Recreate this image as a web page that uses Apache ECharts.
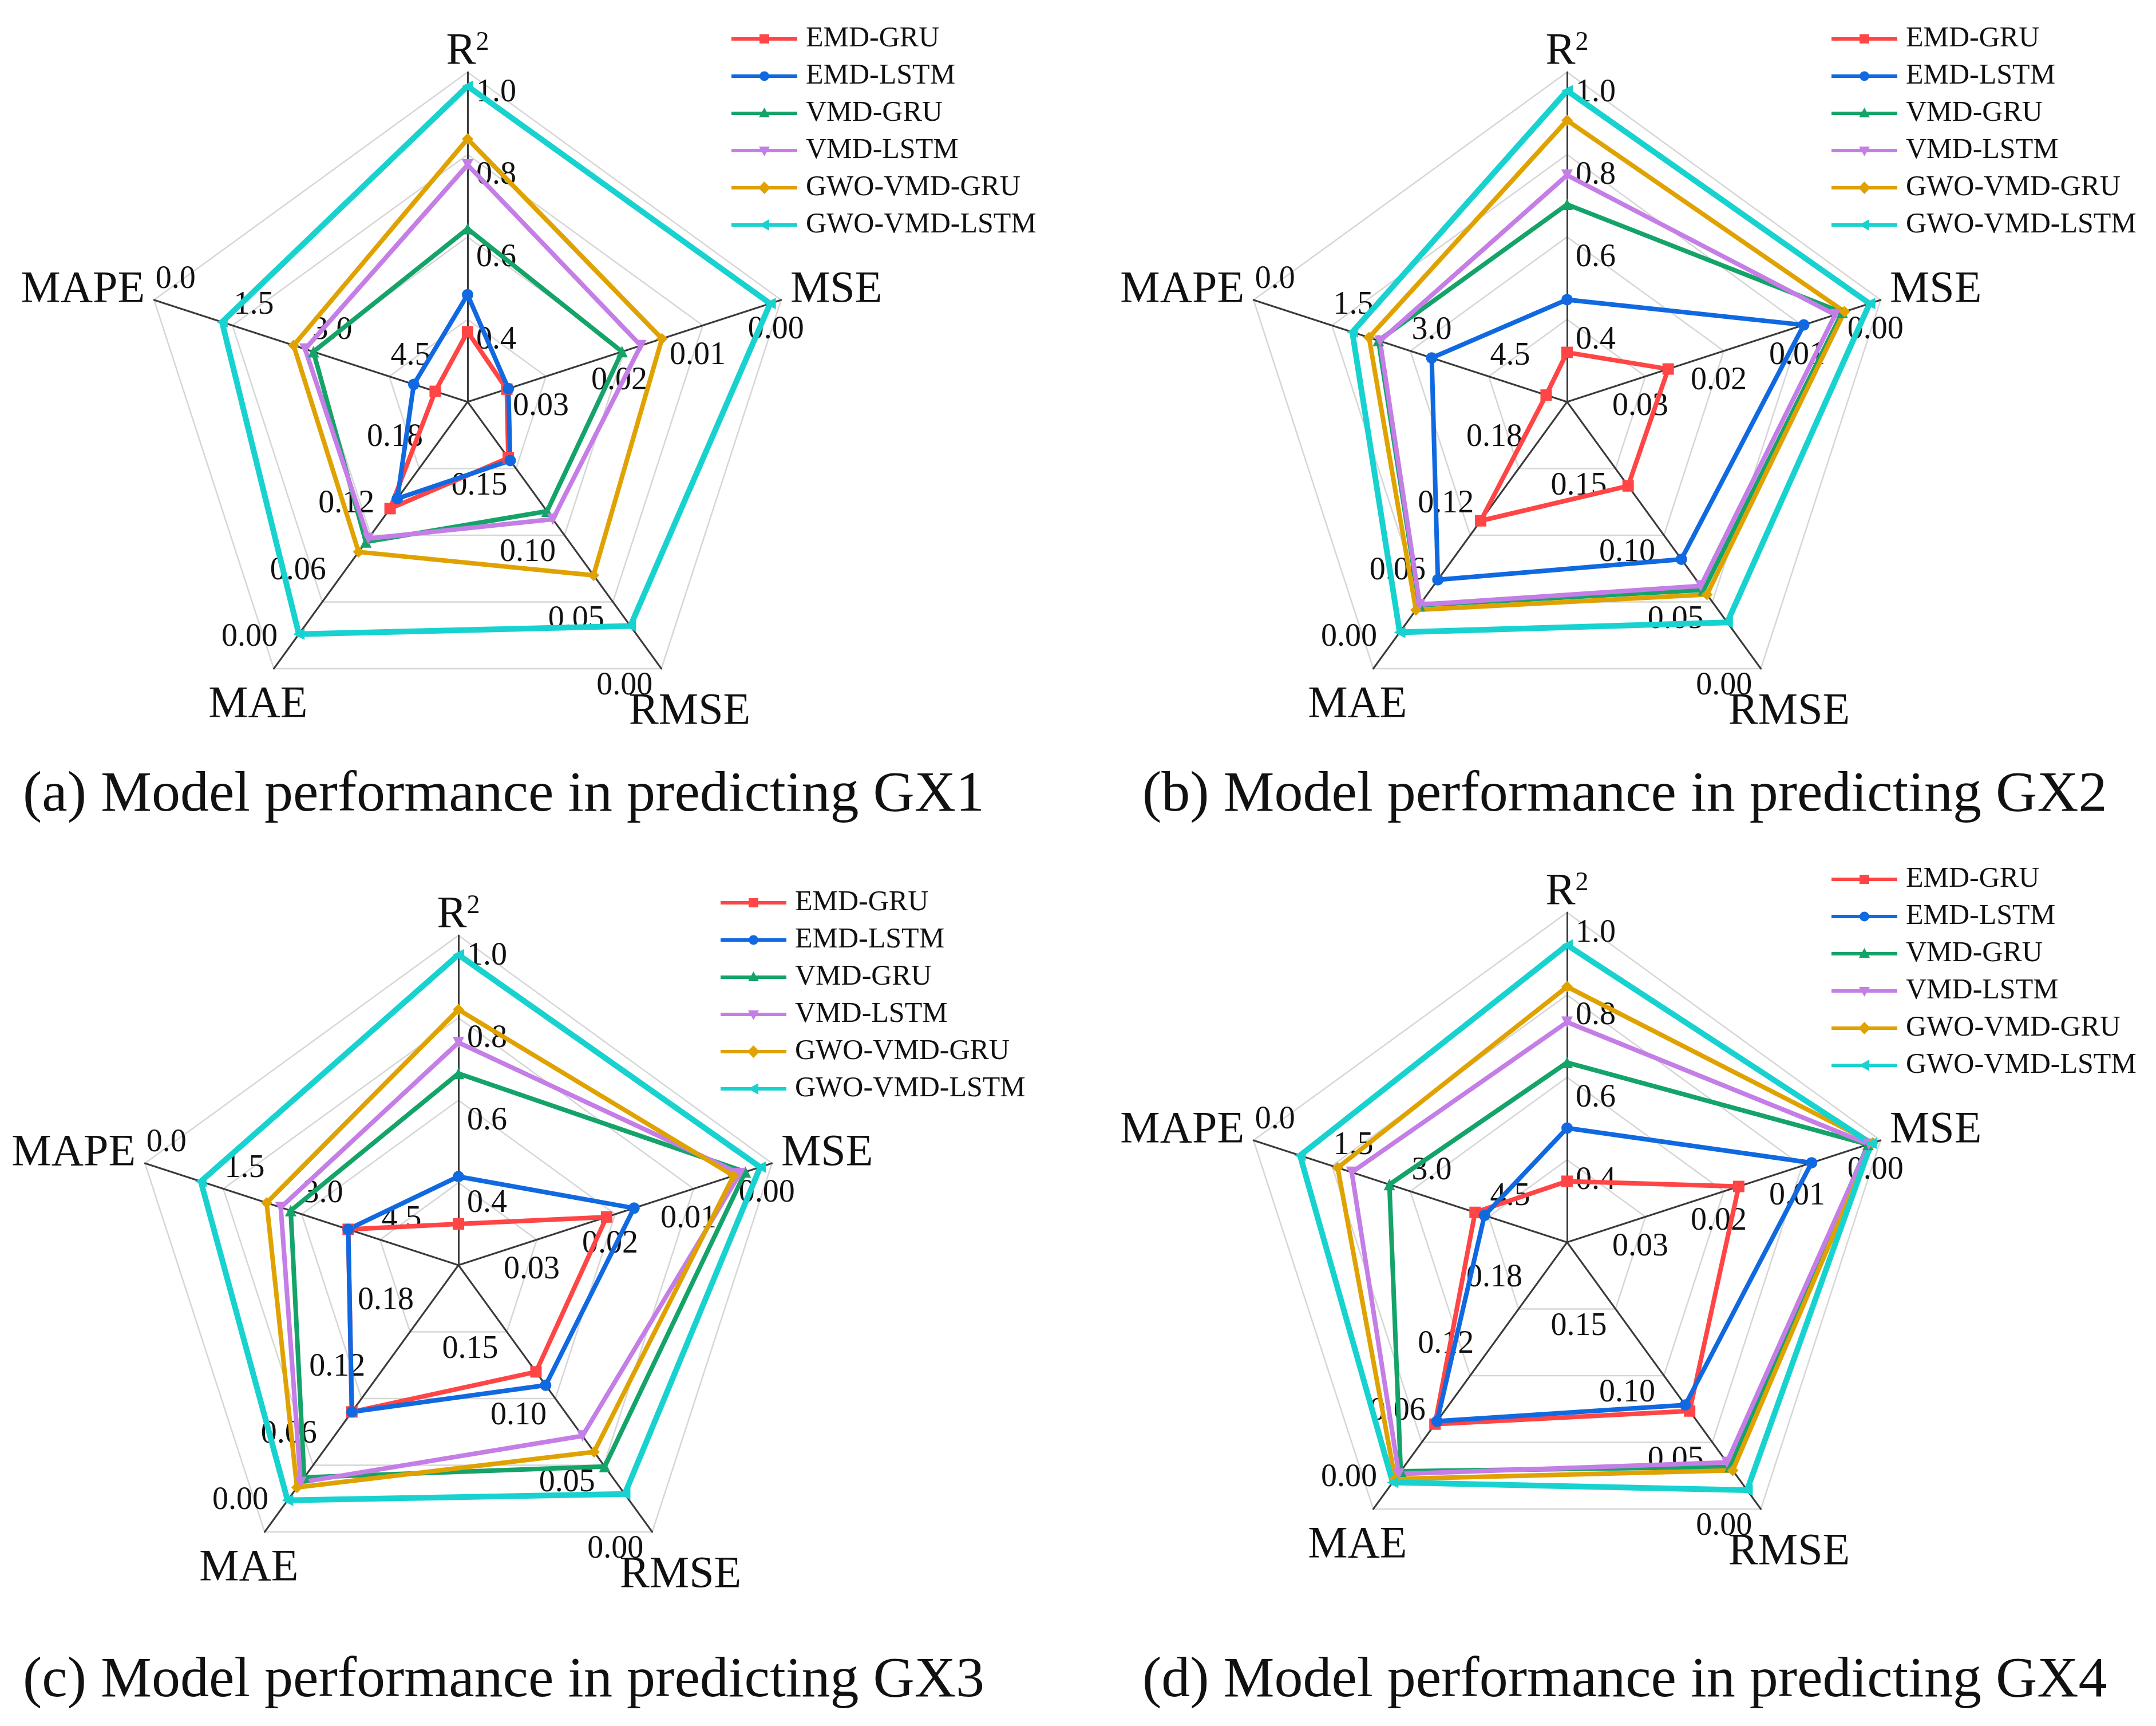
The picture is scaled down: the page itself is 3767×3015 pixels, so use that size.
<!DOCTYPE html>
<html><head><meta charset="utf-8">
<script src="https://cdn.jsdelivr.net/npm/echarts@6/dist/echarts.min.js"></script>
<style>html,body{margin:0;padding:0;background:#fff}#c{width:3767px;height:3015px}</style>
</head><body><div id="c"></div>
<script>
// ---------------- data ----------------
const models = ['EMD-GRU', 'EMD-LSTM', 'VMD-GRU', 'VMD-LSTM', 'GWO-VMD-GRU', 'GWO-VMD-LSTM'];
const metrics = ['R²', 'MSE', 'RMSE', 'MAE', 'MAPE'];
// value at the radar centre and at the outer ring (MSE/RMSE/MAE/MAPE axes run inward)
const axisCenter = [0.2, 0.04, 0.20, 0.24, 6.0];
const axisOuter = [1.0, 0.00, 0.00, 0.00, 0.0];
const axisDecimals = [1, 2, 2, 2, 1];
const captions = [
  '(a) Model performance in predicting GX1',
  '(b) Model performance in predicting GX2',
  '(c) Model performance in predicting GX3',
  '(d) Model performance in predicting GX4'
];
// rows follow `models`, columns follow `metrics`
const gx1 = [
  [0.37, 0.0350, 0.158, 0.144, 5.38],
  [0.46, 0.0348, 0.156, 0.153, 4.97],
  [0.62, 0.0203, 0.118, 0.114, 3.05],
  [0.775, 0.0179, 0.112, 0.117, 2.89],
  [0.838, 0.0152, 0.070, 0.105, 2.67],
  [0.966, 0.0014, 0.032, 0.031, 1.30]
];
const gx2 = [
  [0.32, 0.0271, 0.137, 0.133, 5.60],
  [0.448, 0.0098, 0.082, 0.080, 3.41],
  [0.679, 0.0049, 0.059, 0.057, 2.39],
  [0.750, 0.0058, 0.062, 0.0576, 2.42],
  [0.883, 0.0046, 0.0556, 0.0528, 2.21],
  [0.955, 0.0014, 0.0347, 0.0327, 1.89]
];
const gx3 = [
  [0.30, 0.0211, 0.120, 0.108, 3.89],
  [0.415, 0.0176, 0.110, 0.108, 3.89],
  [0.665, 0.0034, 0.049, 0.049, 2.79],
  [0.740, 0.0041, 0.072, 0.0446, 2.60],
  [0.820, 0.0049, 0.060, 0.040, 2.33],
  [0.953, 0.0015, 0.0284, 0.0284, 1.07]
];
const gx4 = [
  [0.348, 0.0181, 0.0735, 0.0764, 4.24],
  [0.477, 0.0088, 0.078, 0.079, 4.42],
  [0.636, 0.0016, 0.0316, 0.034, 2.60],
  [0.734, 0.0015, 0.035, 0.0316, 1.88],
  [0.820, 0.0010, 0.029, 0.027, 1.61],
  [0.921, 0.0012, 0.0142, 0.024, 0.89]
];
const panels = [gx1, gx2, gx3, gx4];

// ---------------- styles ----------------
const colors = ['#FF4545', '#1069E0', '#14A368', '#C47EE6', '#DFA200', '#18D2D0'];
const symbols = ['rect', 'circle', 'triangle', 'triangle', 'diamond', 'triangle'];
const symbolRot = [0, 0, 0, 180, 0, 90];
const lineW = [8, 8, 8, 8, 8, 10];
const FONT = 'Liberation Serif';
const centers = [[817, 702], [2738, 702], [801, 2210], [2738, 2170]];
const R = 576;
const legendPos = [[1273, 38], [3195, 38], [1254, 1547], [3195, 1506]];
const captionPos = [[40, 1340], [1996, 1340], [40, 2887], [1996, 2887]];

// ECharts lays indicators out counter-clockwise from the top; the figure runs clockwise
const displayOrder = [0, 4, 3, 2, 1];

const base = 'M0 0 L0 0 M115 30 L115 30 M0 12 L115 12 L115 18 L0 18 Z ';
const legendIcons = [
  base + 'M49 7 L66 7 L66 23 L49 23 Z',
  base + 'M66 15 A8.5 8.5 0 1 1 49 15 A8.5 8.5 0 1 1 66 15 Z',
  base + 'M57.5 5 L67 22 L48 22 Z',
  base + 'M48 8 L67 8 L57.5 25 Z',
  base + 'M57.5 4 L68 15 L57.5 26 L47 15 Z',
  base + 'M48 15 L66 5 L66 25 Z'
].map(p => 'path://' + p);

// per metric (metric order)
const nameGaps = [-4, 17, 45, 30, 17];
const nameStyles = [
  {},
  { padding: [0, 0, 24, 0] },
  { align: 'center', verticalAlign: 'top', padding: [0, 0, 0, 46] },
  { align: 'center', verticalAlign: 'top', padding: [0, 20, 0, 0] },
  { padding: [0, 0, 24, 0] }
];
const labelStyles = [
  { margin: -15, align: 'left', verticalAlign: 'top', padding: [8, 0, 0, 0] },
  { margin: -26, align: 'center', verticalAlign: 'top', padding: [0, 34, 0, 0] },
  { margin: -4, align: 'right', verticalAlign: 'top', padding: [0, 12, 0, 0] },
  { margin: -45, align: 'center', verticalAlign: 'bottom', padding: [0, 12, 0, 0] },
  { margin: -8, align: 'left', verticalAlign: 'bottom' }
];

function isInverted(i) { return axisOuter[i] < axisCenter[i]; }

function makeIndicators() {
  return displayOrder.map(i => {
    const inv = isInverted(i);
    const lo = inv ? -axisCenter[i] : axisCenter[i];
    const hi = inv ? -axisOuter[i] : axisOuter[i];
    return {
      name: metrics[i], min: lo, max: hi,
      nameGap: nameGaps[i],
      nameMoveOverlap: false,
      nameTextStyle: nameStyles[i],
      axisLabel: Object.assign({
        formatter: function (v) {
          if (Math.abs(v - lo) < 1e-9) return '';
          return Math.abs(v).toFixed(axisDecimals[i]);
        }
      }, labelStyles[i])
    };
  });
}
function plotValue(row) {
  return displayOrder.map(i => (isInverted(i) ? -row[i] : row[i]));
}

const radars = centers.map(c => ({
  center: c, radius: R, startAngle: 90, splitNumber: 4, shape: 'polygon',
  indicator: makeIndicators(),
  axisName: {
    color: '#111', fontSize: 78, fontFamily: FONT,
    formatter: n => (n === 'R²' ? '{r|R}{s|2}' : n),
    rich: {
      r: { fontSize: 78, fontFamily: FONT, color: '#111' },
      s: { fontSize: 46, fontFamily: FONT, color: '#111', verticalAlign: 'top' }
    }
  },
  axisLine: { lineStyle: { color: '#3a3a3a', width: 3 } },
  splitLine: { lineStyle: { color: '#d6d6d6', width: 2.5 } },
  splitArea: { show: false },
  axisTick: { show: false },
  axisLabel: { show: true, fontSize: 56, color: '#111', fontFamily: FONT, margin: 12 }
}));

const series = panels.map((p, k) => ({
  type: 'radar', radarIndex: k, z: 3,
  data: p.map((row, i) => ({
    name: models[i], value: plotValue(row),
    symbol: symbols[i], symbolRotate: symbolRot[i], symbolSize: 20,
    lineStyle: { color: colors[i], width: lineW[i] },
    itemStyle: { color: colors[i] }
  }))
}));

const legends = legendPos.map(pos => ({
  orient: 'vertical', left: pos[0], top: pos[1],
  itemWidth: 115, itemHeight: 30, itemGap: 15, selectedMode: false,
  data: models.map((m, i) => ({ name: m, icon: legendIcons[i], itemStyle: { color: colors[i] } })),
  textStyle: { fontSize: 50, fontFamily: FONT, color: '#111', padding: [0, 0, 0, 10] }
}));

const titles = captions.map((t, i) => ({
  text: t, left: captionPos[i][0], top: captionPos[i][1], padding: 0,
  textStyle: { fontSize: 100, fontWeight: 'normal', fontFamily: FONT, color: '#111' }
}));

const chart = echarts.init(document.getElementById('c'), null, { renderer: 'canvas' });
chart.setOption({
  backgroundColor: '#fff',
  animation: false,
  color: colors,
  title: titles,
  legend: legends,
  radar: radars,
  series: series
});
</script></body></html>
